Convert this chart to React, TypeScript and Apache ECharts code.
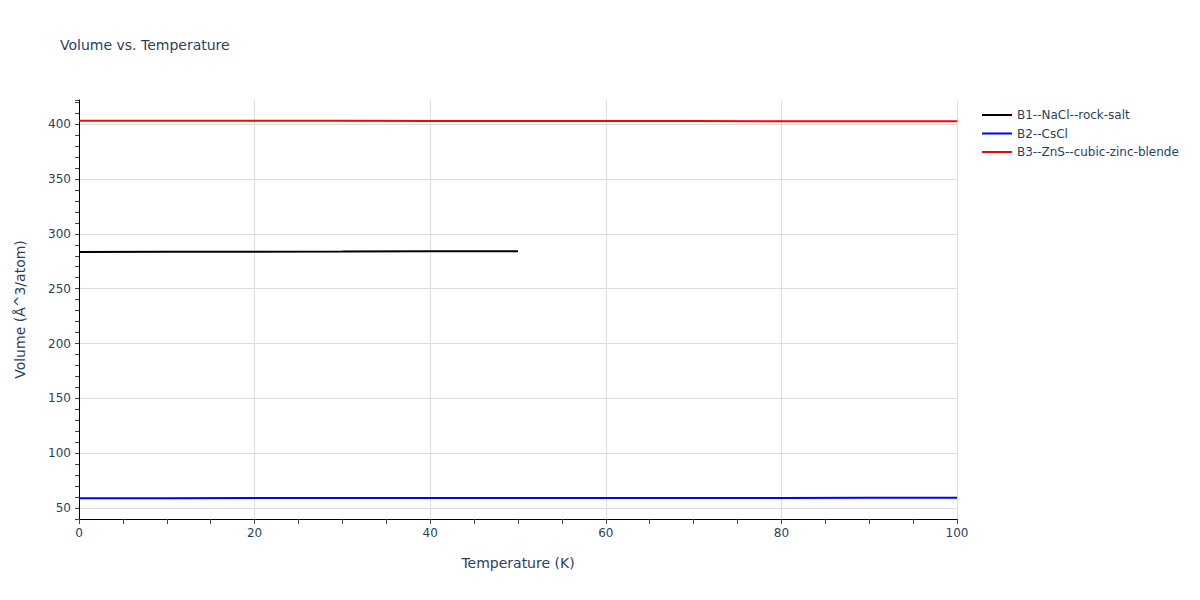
import React, { useEffect, useRef } from 'react';
import * as echarts from 'echarts';

// temperature (K) for each sample
const tempsNaCl = [0, 10, 20, 30, 40, 50];
const tempsFull = [0, 10, 20, 30, 40, 50, 60, 70, 80, 90, 100];

// volume (Å^3/atom)
const volNaCl = [283.5, 283.6, 283.7, 283.8, 284.0, 284.2];
const volCsCl = [59.0, 59.0, 59.05, 59.1, 59.1, 59.15, 59.2, 59.2, 59.25, 59.3, 59.3];
const volZnS = [403.1, 403.05, 403.0, 403.0, 402.9, 402.9, 402.8, 402.8, 402.7, 402.65, 402.6];

const seriesNames = ['B1--NaCl--rock-salt', 'B2--CsCl', 'B3--ZnS--cubic-zinc-blende'];
const seriesColors = ['#000000', '#0000ff', '#ff0000'];

const textColor = '#2a3f5f';
const font = '"DejaVu Sans", Verdana, sans-serif';

const App = () => {
  const chartRef = useRef<HTMLDivElement | null>(null);

  useEffect(() => {
    document.body.style.margin = '0';
    if (!chartRef.current) return;
    const chart = echarts.init(chartRef.current, null, { renderer: 'svg' });

    const pairs = (xs: number[], ys: number[]) => xs.map((x, i) => [x, ys[i]]);
    const seriesData = [
      pairs(tempsNaCl, volNaCl),
      pairs(tempsFull, volCsCl),
      pairs(tempsFull, volZnS),
    ];

    chart.setOption({
      animation: false,
      textStyle: { fontFamily: font },
      title: {
        text: 'Volume vs. Temperature',
        left: 55,
        top: 33,
        textStyle: { fontSize: 14, fontWeight: 'normal', color: textColor, fontFamily: font },
      },
      legend: {
        orient: 'vertical',
        left: 977,
        top: 104,
        itemWidth: 30,
        itemHeight: 2,
        itemGap: 6.5,
        icon: 'rect',
        data: seriesNames,
        textStyle: { fontSize: 12, color: textColor, fontFamily: font },
      },
      grid: { left: 79, right: 243, top: 100, bottom: 81, containLabel: false },
      xAxis: {
        type: 'value',
        min: 0,
        max: 100,
        interval: 20,
        name: 'Temperature (K)',
        nameLocation: 'middle',
        nameGap: 37,
        nameTextStyle: { fontSize: 14, color: textColor, fontFamily: font },
        axisLine: { show: true, onZero: false, lineStyle: { color: '#000', width: 1 } },
        axisTick: { show: true, length: 5, lineStyle: { color: '#444' } },
        minorTick: { show: true, splitNumber: 4, length: 5, lineStyle: { color: '#444' } },
        axisLabel: { fontSize: 12, color: textColor, margin: 8, fontFamily: font },
        splitLine: { show: true, lineStyle: { color: '#dddddd', width: 1 } },
      },
      yAxis: {
        type: 'value',
        min: 40,
        max: 422,
        interval: 10,
        name: 'Volume (Å^3/atom)',
        nameLocation: 'middle',
        nameGap: 52,
        nameTextStyle: { fontSize: 14, color: textColor, fontFamily: font },
        axisLine: { show: true, onZero: false, lineStyle: { color: '#000', width: 1 } },
        axisTick: { show: true, length: 4, lineStyle: { color: '#444' } },
        axisLabel: {
          fontSize: 12,
          color: textColor,
          margin: 8,
          fontFamily: font,
          formatter: (v: number) => (v % 50 === 0 ? String(v) : ''),
        },
        splitLine: {
          show: true,
          lineStyle: {
            color: ['transparent', '#dddddd', 'transparent', 'transparent', 'transparent'],
            width: 1,
          },
        },
      },
      series: seriesNames.map((name, i) => ({
        name,
        type: 'line',
        data: seriesData[i],
        showSymbol: false,
        symbol: 'none',
        lineStyle: { color: seriesColors[i], width: 2 },
        itemStyle: { color: seriesColors[i] },
      })),
    });

    return () => {
      chart.dispose();
    };
  }, []);

  return <div ref={chartRef} style={{ width: '1200px', height: '600px' }} />;
};

export default App;
